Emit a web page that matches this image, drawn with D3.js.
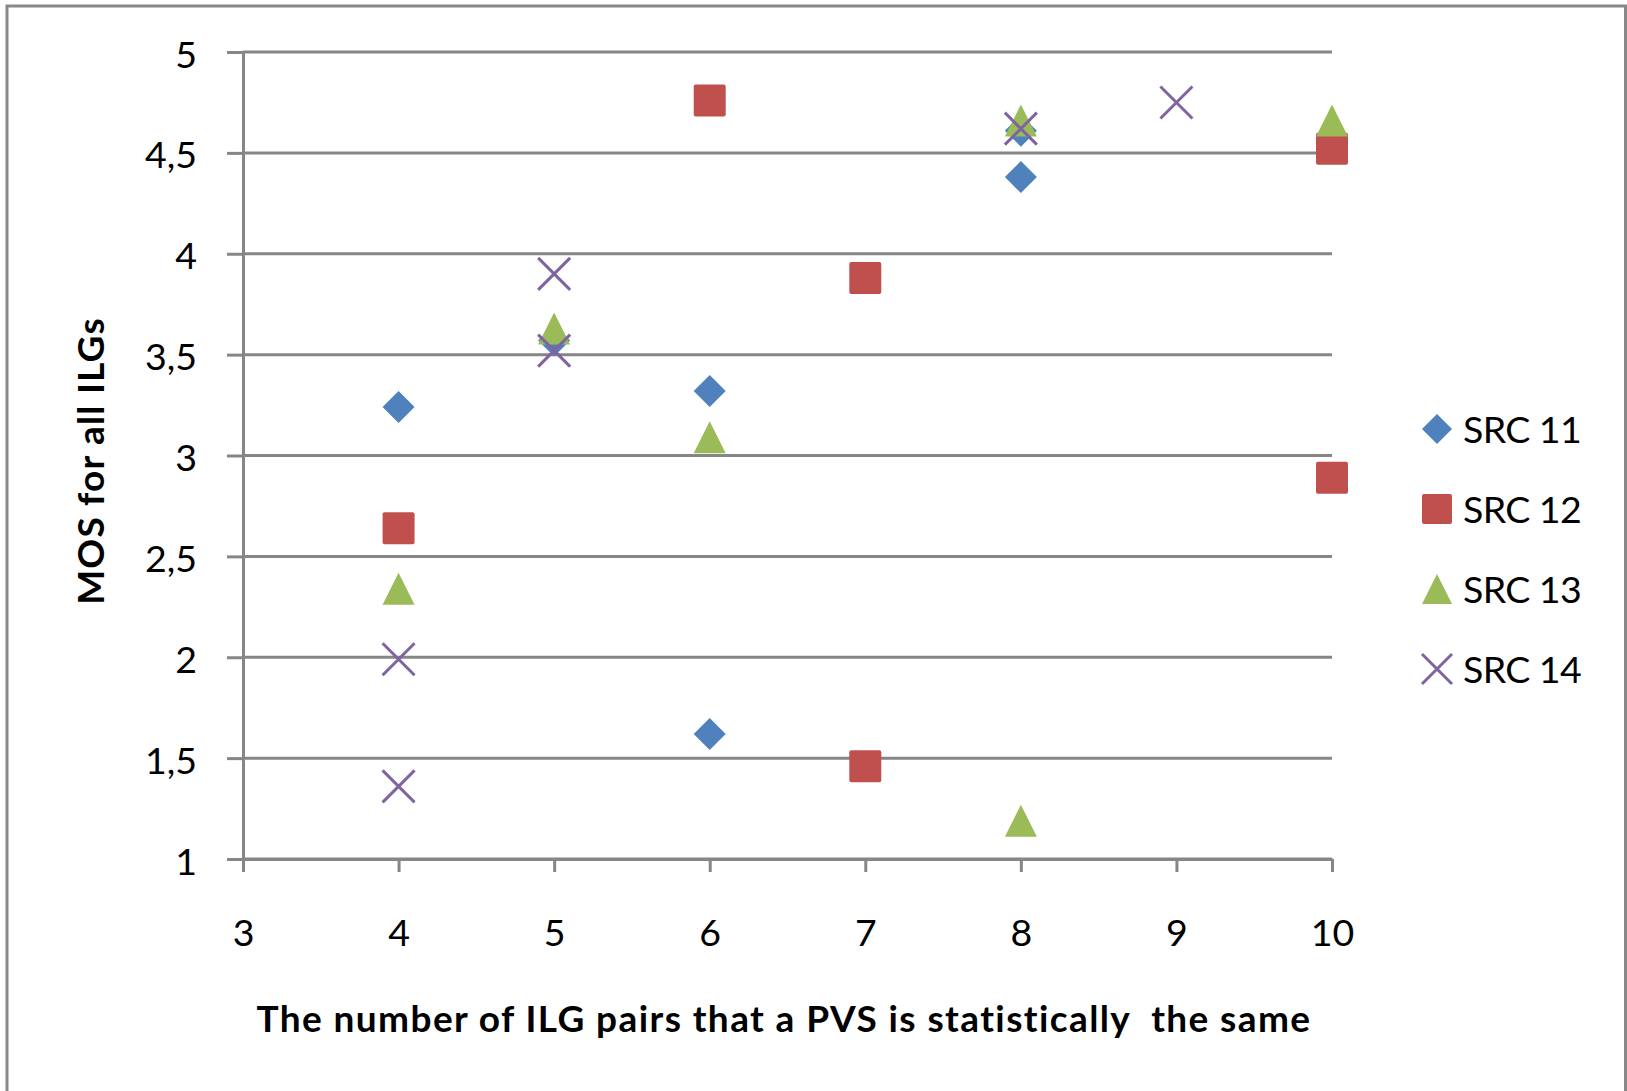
<!DOCTYPE html>
<meta charset="utf-8" />
<style>
  body {
    margin: 0;
    background: #fff;
  }
  text {
    font-family: Lato, "Open Sans", sans-serif;
    fill: #000;
  }
  .axis path,
  .axis line {
    stroke: #868686;
    stroke-width: 3;
  }
  .grid {
    stroke: #868686;
    stroke-width: 3;
  }
</style>
<body>
  <script src="https://d3js.org/d3.v7.min.js"></script>
  <script>
    // tick values and labels
    var xTicks = [3, 4, 5, 6, 7, 8, 9, 10];
    var yTicks = [1, 1.5, 2, 2.5, 3, 3.5, 4, 4.5, 5];
    var yTickLabels = ["1", "1,5", "2", "2,5", "3", "3,5", "4", "4,5", "5"];

    // series
    var seriesNames = ["SRC 11", "SRC 12", "SRC 13", "SRC 14"];
    var src11X = [4, 5, 6, 6, 8, 8];
    var src11Y = [3.24, 3.57, 3.32, 1.62, 4.38, 4.61];
    var src12X = [4, 6, 7, 7, 10, 10];
    var src12Y = [2.64, 4.76, 3.88, 1.46, 4.52, 2.89];
    var src13X = [4, 5, 6, 8, 8, 10];
    var src13Y = [2.34, 3.63, 3.09, 1.19, 4.66, 4.66];
    var src14X = [4, 4, 5, 5, 8, 9];
    var src14Y = [1.99, 1.36, 3.9, 3.52, 4.62, 4.75];

    var colors = ["#4f81bd", "#c0504d", "#9bbb59", "#8064a2"];
    var shapes = ["diamond", "square", "triangle", "cross"];

    var series = [
      { xs: src11X, ys: src11Y },
      { xs: src12X, ys: src12Y },
      { xs: src13X, ys: src13Y },
      { xs: src14X, ys: src14Y },
    ].map(function (s, i) {
      return {
        name: seriesNames[i],
        color: colors[i],
        shape: shapes[i],
        points: s.xs.map(function (x, j) {
          return { x: x, y: s.ys[j] };
        }),
      };
    });

    var W = 1627,
      H = 1091;
    var plot = { left: 243, right: 1332, top: 52, bottom: 859 };

    var x = d3.scaleLinear().domain([3, 10]).range([plot.left, plot.right]);
    var y = d3.scaleLinear().domain([1, 5]).range([plot.bottom, plot.top]);

    var svg = d3
      .select("body")
      .append("svg")
      .attr("width", W)
      .attr("height", H);

    // outer chart frame
    svg
      .append("rect")
      .attr("x", 7)
      .attr("y", 6)
      .attr("width", W - 8.5)
      .attr("height", H)
      .style("fill", "#fff")
      .style("stroke", "#888")
      .style("stroke-width", 3);

    // horizontal gridlines
    svg
      .selectAll(".grid")
      .data(yTicks)
      .enter()
      .append("line")
      .attr("class", "grid")
      .attr("x1", plot.left)
      .attr("x2", plot.right)
      .attr("y1", function (d) {
        return y(d);
      })
      .attr("y2", function (d) {
        return y(d);
      });

    // y axis
    var yAxis = svg
      .append("g")
      .attr("class", "axis")
      .attr("transform", "translate(" + plot.left + ",0)")
      .call(
        d3
          .axisLeft(y)
          .tickValues(yTicks)
          .tickSizeInner(16)
          .tickSizeOuter(0)
          .tickPadding(30)
          .tickFormat(function (d, i) {
            return yTickLabels[i];
          })
      );
    yAxis.selectAll("text").attr("dy", "0.4em").style("font-size", "37.5px");

    // x axis
    var xAxis = svg
      .append("g")
      .attr("class", "axis")
      .attr("transform", "translate(0," + plot.bottom + ")")
      .call(
        d3
          .axisBottom(x)
          .tickValues(xTicks)
          .tickSizeInner(13)
          .tickSizeOuter(0)
          .tickPadding(47)
          .tickFormat(d3.format("d"))
      );
    xAxis.selectAll("text").style("font-size", "37.5px");

    // marker shapes, r is half the width
    function marker(g, shape, color, r) {
      if (shape === "diamond") {
        g.append("path")
          .attr("d", "M0," + -r + "L" + r + ",0L0," + r + "L" + -r + ",0Z")
          .style("fill", color);
      } else if (shape === "square") {
        g.append("rect")
          .attr("x", -r)
          .attr("y", -r)
          .attr("width", 2 * r)
          .attr("height", 2 * r)
          .attr("rx", 2)
          .style("fill", color);
      } else if (shape === "triangle") {
        g.append("path")
          .attr("d", "M0," + -r + "L" + r + "," + r + "L" + -r + "," + r + "Z")
          .style("fill", color);
      } else {
        g.append("path")
          .attr(
            "d",
            "M" + -r + "," + -r + "L" + r + "," + r +
              "M" + r + "," + -r + "L" + -r + "," + r
          )
          .style("stroke", color)
          .style("stroke-width", 3)
          .style("fill", "none");
      }
    }

    // points, series drawn in order so later ones sit on top
    series.forEach(function (s) {
      svg
        .append("g")
        .selectAll("g")
        .data(s.points)
        .enter()
        .append("g")
        .attr("transform", function (d) {
          return "translate(" + x(d.x) + "," + y(d.y) + ")";
        })
        .each(function () {
          marker(d3.select(this), s.shape, s.color, 16);
        });
    });

    // legend
    var legend = svg
      .append("g")
      .selectAll("g")
      .data(series)
      .enter()
      .append("g")
      .attr("transform", function (d, i) {
        return "translate(1437," + (429 + i * 80) + ")";
      });
    legend.each(function (d) {
      marker(d3.select(this), d.shape, d.color, 15);
    });
    legend
      .append("text")
      .attr("x", 26)
      .attr("y", 14)
      .style("font-size", "37.5px")
      .style("letter-spacing", "-0.6px")
      .text(function (d) {
        return d.name;
      });

    // axis titles
    svg
      .append("text")
      .attr("x", 784)
      .attr("y", 1032)
      .attr("text-anchor", "middle")
      .style("font-size", "37px")
      .style("font-weight", "bold")
      .style("letter-spacing", "1.4px")
      .style("white-space", "pre")
      .text("The number of ILG pairs that a PVS is statistically  the same");

    svg
      .append("text")
      .attr("transform", "translate(104,461) rotate(-90)")
      .attr("text-anchor", "middle")
      .style("font-size", "37px")
      .style("font-weight", "bold")
      .style("letter-spacing", "1.2px")
      .text("MOS for all ILGs");
  </script>
</body>
